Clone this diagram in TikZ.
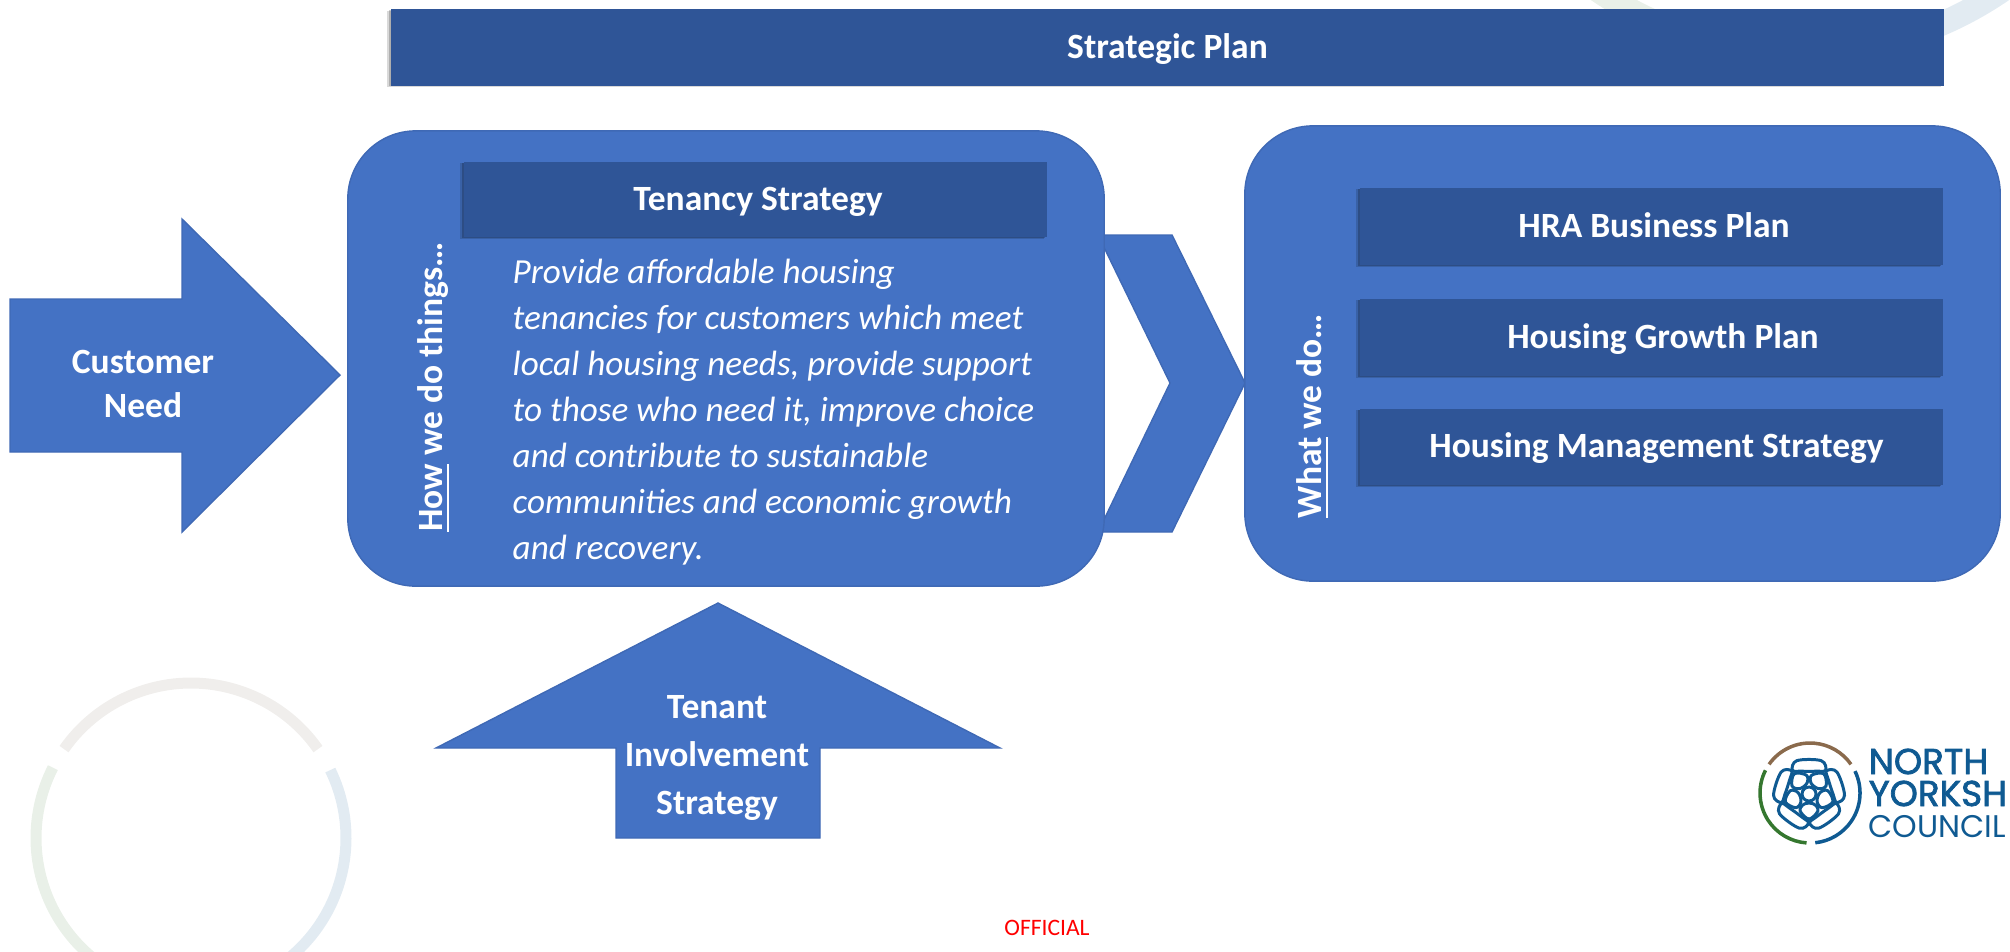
\documentclass[tikz,border=0pt]{standalone}
\usepackage{fontspec}
\setmainfont{Carlito}
\newfontfamily\logofont{Poppins}
\newfontfamily\logobold[FakeBold=2]{Poppins}
\usetikzlibrary{shadows}
\definecolor{midblue}{HTML}{4472C4}
\definecolor{darkblue}{HTML}{2F5597}
\definecolor{edgeblue}{HTML}{3F69B5}
\definecolor{logoblue}{HTML}{0F5A92}
\definecolor{logobrown}{HTML}{8A6A4C}
\definecolor{logogreen}{HTML}{35772F}
\definecolor{faintbrown}{HTML}{F0EEEC}
\definecolor{faintgreen}{HTML}{E9F0E8}
\definecolor{faintblue}{HTML}{E2EBF2}
\begin{document}
\begin{tikzpicture}[
  x=0.01cm,y=-0.01cm,
  shape fill/.style={fill=midblue,draw=edgeblue,line width=0.4pt},
  lbl/.style={text=white,font=\fontsize{10.1}{12.7}\selectfont\bfseries,align=center,inner sep=0pt},
  bar/.style={lbl,fill=darkblue,minimum height=0.76cm,text height=0.82em,text depth=0.2em,
    drop shadow={shadow xshift=-0.035cm,shadow yshift=-0.015cm,opacity=0.15,fill=black},
    drop shadow={shadow xshift=-0.018cm,shadow yshift=-0.008cm,opacity=0.2,fill=black}},
  panel/.style={shape fill,rounded corners=0.68cm,minimum height=4.55cm},
  ringline/.style={line width=#1,line cap=butt},
  petal/.style={draw=logoblue,line width=0.85pt}
]
\useasboundingbox (0,0) rectangle (2010,951);
\clip (0,0) rectangle (2010,951);

% --- Faint rings behind everything ---
\foreach \from/\to/\col in {-145/-35/faintbrown,-153/-266/faintgreen,-26/84/faintblue}{
  \draw[ringline=0.11cm,\col] (191,838) ++(\from:155) arc[start angle=\from,end angle=\to,radius=155];
}
\foreach \from/\to/\col in {155/94/faintgreen,26/84/faintblue}{
  \draw[ringline=0.24cm,\col] (1800,-304) ++(\from:357) arc[start angle=\from,end angle=\to,radius=357];
}

% --- Block arrows ---
\draw[shape fill] (10,299) -- (182,299) -- (182,219) -- (340,375) -- (182,532) -- (182,452) -- (10,452) -- cycle;
\draw[shape fill] (718,603) -- (1000,748) -- (820,748) -- (820,838) -- (616,838) -- (616,748) -- (436,748) -- cycle;

% --- Panels ---
\draw[shape fill] (1098,235) -- (1172,235) -- (1245,383) -- (1172,532) -- (1098,532) -- (1170,383) -- cycle;
\node[panel,minimum width=7.56cm] (howpanel) at (726,358.5) {};
\node[panel,minimum width=7.55cm] (whatpanel) at (1622.5,353.5) {};

% --- Bars ---
\node[bar,minimum width=15.53cm] (strategic) at (1167.5,47.5) {Strategic Plan};
\node[bar,minimum width=5.83cm,minimum height=0.75cm] (tenancy) at (755.5,199.5) {\hspace*{0.05cm}Tenancy Strategy};
\node[bar,minimum width=5.83cm,minimum height=0.77cm] (hra) at (1651.5,226.5) {\hspace*{0.05cm}HRA Business Plan};
\node[bar,minimum width=5.83cm,minimum height=0.77cm] (growth) at (1651.5,337.5) {\hspace*{0.23cm}Housing Growth Plan};
\node[bar,minimum width=5.83cm,minimum height=0.76cm] (mgmt) at (1651.5,447) {\hspace*{0.1cm}Housing Management Strategy};

% --- Labels ---
\node[lbl,rotate=90] (how) at (434,387) {\underline{How} we do things\dots};
\node[lbl,rotate=90] (what) at (1313,416) {\underline{What} we do\dots};
\node[lbl] (customer) at (143,384) {Customer\\Need};
\node[lbl] (tenant) at (717,758) {Tenant\\[1pt]Involvement\\[1pt]Strategy};
\node[text=white,inner sep=0pt,align=left,anchor=north west,
  font=\fontsize{10}{13.09}\selectfont\itshape] (policy) at (512,258)
  {Provide affordable housing\\
   tenancies for customers which meet\\
   local housing needs, provide support\\
   to those who need it, improve choice\\
   and contribute to sustainable\\
   communities and economic growth\\
   and recovery.};
\node[text=red,inner sep=0pt,anchor=base,font=\fontsize{6.7}{8}\selectfont] (official) at (1047,935) {OFFICIAL};

% --- Logo ---
\draw[ringline=1pt,logobrown] (1810,793) ++(-145:50) arc[start angle=-145,end angle=-35,radius=50];
\draw[ringline=1pt,logogreen] (1810,793) ++(-153:50) arc[start angle=-153,end angle=-266,radius=50];
\draw[ringline=1pt,logoblue] (1810,793) ++(-26:50) arc[start angle=-26,end angle=84,radius=50];
\begin{scope}[shift={(1809,794)}]
  \foreach \a in {-90,-18,54,126,198}{
    \draw[petal] plot[smooth cycle,tension=0.6] coordinates
      {(\a-35:29) (\a-20:35.5) (\a+20:35.5) (\a+35:29) (\a+18:24) (\a-18:24)};
  }
  \foreach \a in {90,162,234,306,18}{
    \draw[petal] plot[smooth cycle,tension=0.6] coordinates
      {(\a-25:11) (\a-28:19) (\a:25) (\a+28:19) (\a+25:11)};
  }
  \draw[petal] (0,0) circle[radius=7];
\end{scope}
\node[text=logoblue,inner sep=0pt,anchor=base west,font=\logobold\fontsize{10.2}{11}\selectfont] (north) at (1868,774) {NORTH};
\node[text=logoblue,inner sep=0pt,anchor=base west,font=\logobold\fontsize{10.2}{11}\selectfont] (yorks) at (1868,806) {YORKSH};
\node[text=logoblue,inner sep=0pt,anchor=base west,font=\logofont\fontsize{8.9}{11}\selectfont] (council) at (1868,837) {COUNCIL};
\end{tikzpicture}
\end{document}
